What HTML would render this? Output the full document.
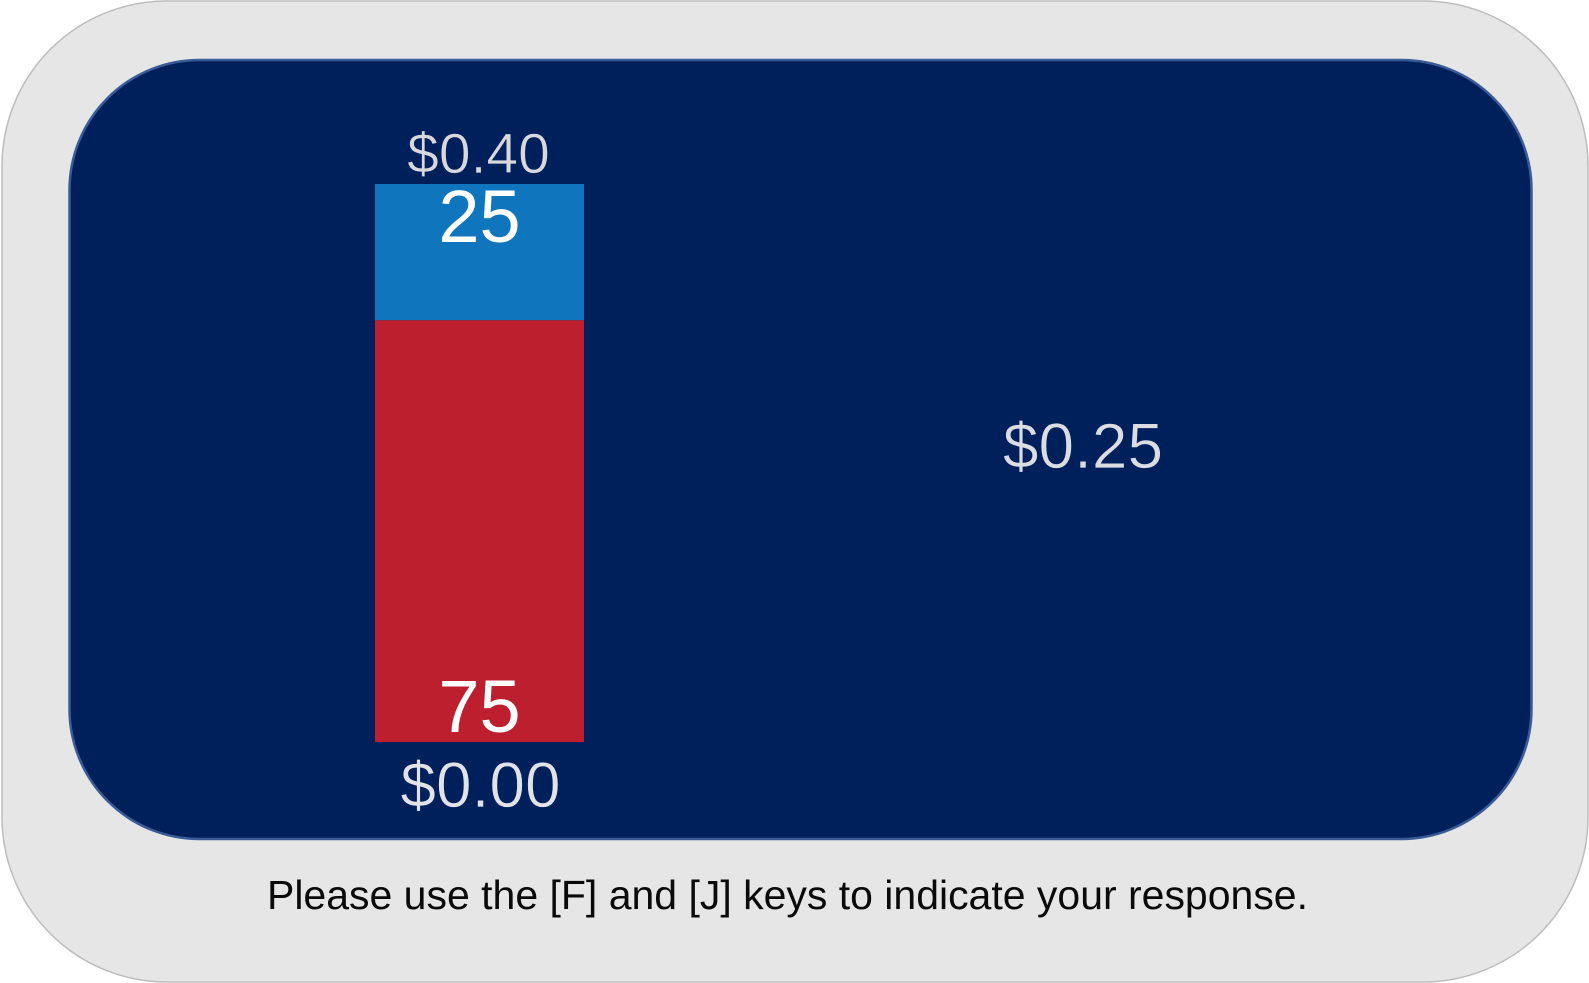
<!DOCTYPE html>
<html lang="en">
<head>
<meta charset="utf-8">
<title>Response screen</title>
<style>
html,body{margin:0;padding:0;background:#fff;width:1589px;height:983px;overflow:hidden}
svg{display:block}
text{font-family:"Liberation Sans",sans-serif}
</style>
</head>
<body>
<svg id="chart" xmlns="http://www.w3.org/2000/svg" width="1589" height="983" viewBox="0 0 1589 983">
  <rect x="2" y="1" width="1586" height="981" rx="165" ry="165" fill="#e7e6e7" stroke="#bdbdbd" stroke-width="1.5"/>
  <rect x="69.5" y="60" width="1462" height="779" rx="130" ry="130" fill="#00205c" stroke="#3a5c96" stroke-width="2.5"/>
  <g id="bar"></g>
  <text x="1083" y="468" text-anchor="middle" font-size="64" fill="#dcdde2" stroke="#00205c" stroke-width="0.7">$0.25</text>
  <text x="267" y="909" font-size="41" fill="#0a0a0a" textLength="1041" lengthAdjust="spacing">Please use the [F] and [J] keys to indicate your response.</text>
</svg>
<script>
// Segment heights, bottom to top (percent of the bar)
const segmentNames = ['red', 'blue'];
const segmentValues = [75.6, 24.4];
const segmentLabels = ['75', '25'];
const segmentColors = ['#bd1f2e', '#0f75bc'];
const axisMaxLabel = '$0.40';
const axisMinLabel = '$0.00';
const axisMax = 100;

const NS = 'http://www.w3.org/2000/svg';
const barGroup = document.getElementById('bar');
const barLeft = 375, barWidth = 209, barBottom = 742, barTop = 184;

function yScale(v) {
  return barBottom - (v / axisMax) * (barBottom - barTop);
}

function addText(content, x, y, size, fill, thin) {
  const t = document.createElementNS(NS, 'text');
  t.setAttribute('x', x);
  t.setAttribute('y', y);
  t.setAttribute('text-anchor', 'middle');
  t.setAttribute('font-size', size);
  t.setAttribute('fill', fill);
  if (thin) {
    t.setAttribute('stroke', '#00205c');
    t.setAttribute('stroke-width', '0.7');
  }
  t.textContent = content;
  barGroup.appendChild(t);
  return t;
}

const barCenter = barLeft + barWidth / 2;
let cumulative = 0;
segmentValues.forEach(function (value, i) {
  const y0 = yScale(cumulative);
  const y1 = yScale(cumulative + value);
  const r = document.createElementNS(NS, 'rect');
  r.setAttribute('x', barLeft);
  r.setAttribute('y', y1);
  r.setAttribute('width', barWidth);
  r.setAttribute('height', y0 - y1);
  r.setAttribute('fill', segmentColors[i]);
  
  
  barGroup.appendChild(r);
  cumulative += value;
});

cumulative = 0;
segmentValues.forEach(function (value, i) {
  // The lower label sits at the segment's bottom edge, the upper one at its top edge
  const baseline = i === 0 ? yScale(cumulative) - 10 : yScale(cumulative + value) + 58;
  const label = addText(segmentLabels[i], barCenter, baseline, 74, '#ffffff', false);
  
  
  cumulative += value;
});

const maxLabel = addText(axisMaxLabel, barCenter - 1, yScale(axisMax) - 11, 57, '#d9d9dd', true);



const minLabel = addText(axisMinLabel, barCenter + 1, yScale(0) + 65, 64, '#e2e3e8', true);


</script>
</body>
</html>
